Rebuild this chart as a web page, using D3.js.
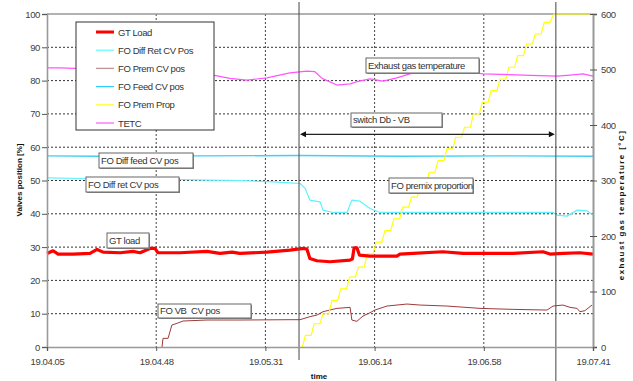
<!DOCTYPE html>
<html>
<head>
<meta charset="utf-8">
<script src="https://cdn.jsdelivr.net/npm/d3@7"></script>
<style>
  html, body { margin: 0; padding: 0; background: #fff; }
  svg { display: block; font-family: "Liberation Sans", Arial, sans-serif; }
</style>
</head>
<body>
<svg id="chart" width="633" height="381"></svg>
<script>
// Time is measured in seconds after 19:04:05.
const tickSeconds = [0, 43.2, 86.4, 129.6, 172.8, 216];
const tickLabels = ["19.04.05", "19.04.48", "19.05.31", "19.06.14", "19.06.58", "19.07.41"];

// Start and end of the Db -> VB switch-over (seconds).
const switchTimes = [99.7, 201.3];

// [seconds, % load]
const gtLoad = [[0,28.1],[2.4,28.9],[4.4,27.9],[10.3,27.9],[17,28.1],[19.8,29.3],[22.2,28.5],[28.9,28.3],[34,28.7],[36.8,28.3],[40.7,29.6],[42.7,29.6],[43.9,28.3],[52.6,28.3],[63.3,28.7],[68.4,28.1],[73.2,28.5],[76.3,28.1],[87,28.5],[96.1,29.1],[101.5,29.6],[102.8,29.4],[104,26.6],[106.8,25.9],[111.9,25.6],[119.9,26.1],[120.8,26.4],[121.5,29.8],[122.6,29.8],[123.6,27.6],[127.8,27.3],[138.4,27.3],[139.6,27.9],[144.8,28.1],[156.6,28.6],[164.6,28.1],[184.3,28.1],[196.2,28.6],[199,27.9],[204.1,28.1],[210.8,28.3],[216,27.9]];

// [seconds, % open] — diffusion return valve
const diffRetPos = [[0,50.8],[14.2,50.6],[30.1,50.6],[52.6,50.3],[63.3,50.1],[76.3,50],[89.4,49.6],[96.1,49.3],[100.1,49.1],[102.1,47.7],[104,44.1],[108,43.6],[109.2,41.1],[113.1,40.4],[118.7,40.4],[120.6,44.1],[123.8,43.8],[127.8,41.6],[131.7,40.4],[148.7,40.4],[175.2,40.4],[200.2,40.4],[201.7,39.6],[205.7,39.3],[209.7,41.1],[213.6,40.9],[216,39.6]];

// [seconds, % open] — premix (VB) valve
const premPos = [[45.5,0],[45.9,2.6],[47.9,2.6],[49.4,6.6],[51.4,7.1],[53.8,7.8],[63.3,8.1],[76.3,8.1],[96.1,8.2],[100.1,8.2],[104,9.1],[106.8,9.6],[109.2,10.6],[114.7,11.6],[119.9,11.9],[120.6,8.1],[122.6,7.7],[125,9.3],[127.8,10.3],[129.7,11.1],[134.5,12.3],[142.4,12.9],[147.5,12.6],[158.2,12.3],[171.3,11.6],[184.3,11.3],[197.8,11.1],[200.2,12.3],[204.1,12.6],[206.9,11.9],[209.7,11.6],[210.8,10.6],[212.8,10.9],[215.6,12.6]];

// [seconds, % open] — diffusion feed valve
const feedPos = [[0,57.4],[20,57.3],[60,57.4],[100,57.5],[140,57.3],[180,57.4],[216,57.3]];

// [seconds, % premix proportion] — ramped in small increments
const premProp = [[101,0],[102.2,3.5],[104.5,3.5],[105.7,7],[108,7],[109.2,10],[111.5,10],[112.7,14],[115,14],[116.2,17.5],[118.5,17.5],[119.7,21],[122,21],[123.2,24],[125.5,24],[126.7,28],[129,28],[130.2,31.5],[132.5,31.5],[133.7,35],[136,35],[137.2,38.5],[139.5,38.5],[140.7,42],[143,42],[144.2,45],[146.5,45],[147.7,49],[150,49],[151.2,52.5],[153.5,52.5],[154.7,56],[157,56],[158.2,59.5],[160.5,59.5],[161.7,63],[164,63],[165.2,66],[167.5,66],[168.7,70],[171,70],[172.2,73.5],[174.5,73.5],[175.7,77],[178,77],[179.2,80.5],[181.5,80.5],[182.7,84],[185,84],[186.2,87.5],[188.5,87.5],[189.7,91],[192,91],[193.2,94],[195.5,94],[196.7,97.5],[199,97.5],[200.5,100],[216,100]];

// [seconds, °C] — exhaust gas temperature
const tetc = [[0,503],[5.1,503],[11.1,502],[40.7,498],[65.7,490],[72.4,484],[79.1,481],[87,485],[96.1,494],[102.8,497],[106,496],[108.8,484],[114.7,472],[119.9,474],[122.6,478],[127.8,483],[132.9,479],[138.4,485],[144.8,494],[152.7,496],[164.6,497],[172.5,492],[188.3,490],[201.7,488],[206.9,490],[212,492],[216,488]];

const svg = d3.select("#chart");
const plot = { left: 47, right: 593, top: 14, bottom: 347 };

const x = d3.scaleLinear().domain([0, 216]).range([plot.left, plot.right]);
const yL = d3.scaleLinear().domain([0, 100]).range([plot.bottom, plot.top]);
const yR = d3.scaleLinear().domain([0, 600]).range([plot.bottom, plot.top]);

const tickFont = "9.5px";
const tickColor = "#404040";

// Gridlines
const grid = svg.append("g");
grid.selectAll("line.h").data(d3.range(10, 100, 10)).join("line")
  .attr("x1", plot.left).attr("x2", plot.right)
  .attr("y1", d => yL(d)).attr("y2", d => yL(d))
  .attr("stroke", "#333").attr("stroke-width", 1).attr("stroke-dasharray", "2,2");
grid.selectAll("line.v").data(tickSeconds.slice(1, -1)).join("line")
  .attr("x1", d => x(d)).attr("x2", d => x(d))
  .attr("y1", plot.top).attr("y2", plot.bottom)
  .attr("stroke", "#444").attr("stroke-width", 1).attr("stroke-dasharray", "2,2");

// Top frame
svg.append("line").attr("x1", plot.left).attr("x2", plot.right)
  .attr("y1", plot.top).attr("y2", plot.top).attr("stroke", "#999").attr("stroke-width", 1.3);

// Series
const lineL = d3.line().x(d => x(d[0])).y(d => yL(d[1]));
const lineR = d3.line().x(d => x(d[0])).y(d => yR(d[1]));

const series = [
  { name: "FO Diff Ret CV Pos", data: diffRetPos, gen: lineL, color: "#5ef2fc", width: 1.2 },
  { name: "FO Feed CV pos", data: feedPos, gen: lineL, color: "#3fd0f2", width: 1.4 },
  { name: "FO Prem CV pos", data: premPos, gen: lineL, color: "#a03a3a", width: 1 },
  { name: "FO Prem Prop", data: premProp, gen: lineL, color: "#ffff00", width: 1.1 },
  { name: "TETC", data: tetc, gen: lineR, color: "#ff55ff", width: 1.2 },
  { name: "GT Load", data: gtLoad, gen: lineL, color: "#ff0000", width: 3.2 }
];
svg.append("g").selectAll("path").data(series).join("path")
  .attr("d", s => s.gen(s.data))
  .attr("fill", "none")
  .attr("stroke", s => s.color)
  .attr("stroke-width", s => s.width)
  .attr("stroke-linejoin", "round");

// Switch-over markers
svg.append("g").selectAll("line").data(switchTimes).join("line")
  .attr("x1", d => x(d)).attr("x2", d => x(d))
  .attr("y1", 2).attr("y2", (d, i) => i === 0 ? 360 : 381)
  .attr("stroke", "#555").attr("stroke-width", 1.1);

// Axes
function styleAxis(g) {
  g.selectAll("text").attr("fill", tickColor).style("font-size", tickFont).style("letter-spacing", "-0.4px");
  g.selectAll(".tick line").attr("stroke", "#555");
}
svg.append("g").attr("transform", `translate(${plot.left},0)`)
  .call(d3.axisLeft(yL).tickValues(d3.range(0, 101, 10)).tickSize(5).tickPadding(2))
  .call(g => g.select(".domain").attr("stroke", "#999").attr("stroke-width", 1.6))
  .call(styleAxis);

svg.append("g").attr("transform", `translate(${plot.right},0)`)
  .call(d3.axisRight(yR).tickValues(d3.range(0, 601, 100)).tickSize(4).tickPadding(4))
  .call(g => g.select(".domain").attr("stroke", "#999").attr("stroke-width", 2))
  .call(g => g.selectAll(".tick line").attr("x1", -3))
  .call(styleAxis);

svg.append("g").attr("transform", `translate(0,${plot.bottom})`)
  .call(d3.axisBottom(x).tickValues(tickSeconds).tickFormat((d, i) => tickLabels[i]).tickSize(4).tickPadding(7))
  .call(g => g.select(".domain").attr("stroke", "#999").attr("stroke-width", 1.6))
  .call(styleAxis);

// Axis titles
const titleStyle = t => t.attr("font-weight", "bold").attr("fill", "#111").attr("text-anchor", "middle");
svg.append("text").attr("transform", "translate(22,180) rotate(-90)").text("Valves position [%]")
  .call(titleStyle).attr("font-size", "8px");
svg.append("text").attr("transform", "translate(624,205) rotate(-90)").text("exhaust gas temperature [°C]")
  .call(titleStyle).attr("font-size", "8px").style("letter-spacing", "1.4px");
svg.append("text").attr("x", 319).attr("y", 379).text("time")
  .call(titleStyle).attr("font-size", "8px");

// Legend
const legendOrder = ["GT Load", "FO Diff Ret CV Pos", "FO Prem CV pos", "FO Feed CV pos", "FO Prem Prop", "TETC"];
const legendColor = { "GT Load": "#ff0000", "FO Diff Ret CV Pos": "#66ffff", "FO Prem CV pos": "#c09494", "FO Feed CV pos": "#33ccff", "FO Prem Prop": "#ffff33", "TETC": "#ff66ff" };
const legend = svg.append("g");
legend.append("rect").attr("x", 76).attr("y", 22).attr("width", 138).attr("height", 108)
  .attr("fill", "#fff").attr("stroke", "#333").attr("stroke-width", 1);
const item = legend.selectAll("g.item").data(legendOrder).join("g")
  .attr("transform", (d, i) => `translate(0,${32 + i * 18.2})`);
item.append("line").attr("x1", 96).attr("x2", 114).attr("y1", 0).attr("y2", 0)
  .attr("stroke", d => legendColor[d]).attr("stroke-width", d => d === "GT Load" ? 3 : 1.3);
item.append("text").attr("x", 118).attr("y", 3.5).text(d => d)
  .attr("font-size", "9.5px").attr("fill", "#333").style("letter-spacing", "-0.4px");

// Callout boxes
const callouts = [
  { text: "Exhaust gas temperature", x: 366, y: 58, w: 113, h: 15 },
  { text: "switch Db - VB", x: 351, y: 113, w: 91, h: 14 },
  { text: "FO premix proportion", x: 389, y: 178, w: 84, h: 15 },
  { text: "FO Diff feed CV pos", x: 99, y: 153, w: 94, h: 15 },
  { text: "FO Diff ret CV pos", x: 86, y: 177, w: 93, h: 15 },
  { text: "GT load", x: 107, y: 233, w: 42, h: 15 },
  { text: "FO VB  CV pos", x: 158, y: 304, w: 93, h: 14 }
];
const co = svg.append("g").selectAll("g").data(callouts).join("g");
co.append("rect").attr("x", d => d.x + 1).attr("y", d => d.y + 1).attr("width", d => d.w).attr("height", d => d.h)
  .attr("fill", "#888");
co.append("rect").attr("x", d => d.x).attr("y", d => d.y).attr("width", d => d.w).attr("height", d => d.h)
  .attr("fill", "#fff").attr("stroke", "#666").attr("stroke-width", 1);
co.append("text").attr("x", d => d.x + 2).attr("y", d => d.y + d.h / 2 + 3.3).text(d => d.text)
  .attr("font-size", "9.5px").attr("fill", "#333").style("letter-spacing", "-0.4px").style("white-space", "pre");

// Double arrow spanning the switch-over
const arrowY = 134.3;
const ax1 = x(switchTimes[0]) + 1, ax2 = x(switchTimes[1]) - 1;
svg.append("line").attr("x1", ax1 + 4).attr("x2", ax2 - 4).attr("y1", arrowY).attr("y2", arrowY)
  .attr("stroke", "#222").attr("stroke-width", 1.2);
svg.append("path").attr("d", `M${ax1},${arrowY} l6,-3 v6 z M${ax2},${arrowY} l-6,-3 v6 z`).attr("fill", "#111");
</script>
</body>
</html>
